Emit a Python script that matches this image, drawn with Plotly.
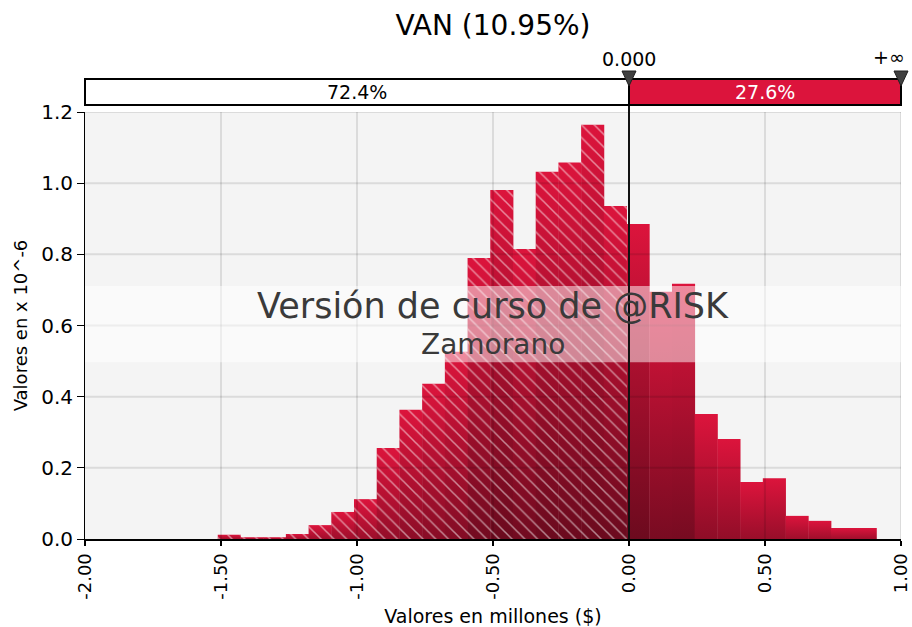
import plotly.graph_objects as go

# histogram of VAN, values in millions, densities x 10^-6
bin_start = -1.512
bin_width = 0.0835
densities = [0.012, 0.005, 0.005, 0.014, 0.039, 0.076, 0.112, 0.256, 0.363, 0.436,
             0.526, 0.790, 0.981, 0.815, 1.032, 1.058, 1.164, 0.936,
             0.885, 0.695, 0.717, 0.351, 0.281, 0.160, 0.171, 0.065, 0.051, 0.031, 0.031]

delimiter = 0.0
left_pct = "72.4%"
right_pct = "27.6%"
title = "VAN (10.95%)"

x_ticks = [-2.0, -1.5, -1.0, -0.5, 0.0, 0.5, 1.0]
y_ticks = [0.0, 0.2, 0.4, 0.6, 0.8, 1.0, 1.2]

XMIN, XMAX = -2.0, 1.0
YMIN, YMAX = 0.0, 1.2
CRIMSON = "#dc143c"
DARK = "#6b0a1e"
SEAM = 0.0015  # tiny overlap so neighbouring bars don't show antialias seams

edges = [bin_start + i * bin_width for i in range(len(densities) + 1)]
fig = go.Figure()

# gradient bars, one filled polygon per bin
for i, h in enumerate(densities):
    l, r = edges[i], edges[i + 1] + SEAM
    f = min(1.0, 0.5 + 0.55 * h)  # small bars get a lighter bottom
    start = -(1 - f) * h / f
    fig.add_trace(go.Scatter(
        x=[l, l, r, r, l], y=[0, h, h, 0, 0],
        mode="lines", line=dict(width=0), fill="toself",
        fillgradient=dict(type="vertical", start=start, stop=h,
                          colorscale=[[0, DARK], [1, CRIMSON]]),
        hoverinfo="skip", showlegend=False,
    ))

# white hatching on bins left of the delimiter
hx, hy = [], []
for i, h in enumerate(densities):
    if edges[i + 1] <= delimiter + 0.01:
        l, r = edges[i], edges[i + 1] + SEAM
        hx += [l, l, r, r, l, None]
        hy += [0, h, h, 0, 0, None]
fig.add_trace(go.Scatter(
    x=hx, y=hy, mode="lines", line=dict(width=0), fill="toself",
    fillcolor="rgba(0,0,0,0)",
    fillpattern=dict(shape="\\", fgcolor="white", fgopacity=0.5, size=9, solidity=0.17,
                     bgcolor="rgba(0,0,0,0)"),
    hoverinfo="skip", showlegend=False,
))

def fx(v):
    return (v - XMIN) / (XMAX - XMIN)

shapes = []
# grid drawn above the bars
for y in y_ticks[1:]:
    shapes.append(dict(type="line", xref="x", yref="y", x0=XMIN, x1=XMAX, y0=y, y1=y,
                       line=dict(color="rgba(0,0,0,0.1)", width=2), layer="above"))
for x in x_ticks[1:]:
    shapes.append(dict(type="line", xref="x", yref="y", x0=x, x1=x, y0=YMIN, y1=YMAX,
                       line=dict(color="rgba(0,0,0,0.1)", width=2), layer="above"))

# watermark band
shapes.append(dict(type="rect", xref="paper", yref="y", x0=0, x1=1, y0=0.497, y1=0.711,
                   fillcolor="rgba(255,255,255,0.5)", line=dict(width=0), layer="above"))

# delimiter line
shapes.append(dict(type="line", xref="x", yref="paper", x0=delimiter, x1=delimiter,
                   y0=0, y1=1 + 7 / 427, line=dict(color="#111111", width=2), layer="above"))

# top probability bar
shapes.append(dict(type="rect", xref="paper", yref="paper", ysizemode="pixel", yanchor=1,
                   x0=fx(XMIN), x1=fx(delimiter), y0=7, y1=33,
                   fillcolor="white", line=dict(color="black", width=2)))
shapes.append(dict(type="rect", xref="paper", yref="paper", ysizemode="pixel", yanchor=1,
                   x0=fx(delimiter), x1=fx(XMAX), y0=7, y1=33,
                   fillcolor=CRIMSON, line=dict(color="black", width=2)))
for v in [delimiter, XMAX]:
    shapes.append(dict(type="path", xref="paper", yref="paper",
                       xsizemode="pixel", ysizemode="pixel", xanchor=fx(v), yanchor=1,
                       path="M -7 41 L 7 41 L 0 26 Z",
                       fillcolor="#404040", line=dict(color="#202020", width=1)))

lab = dict(family="DejaVu Sans", size=19)
annotations = [
    dict(text=left_pct, xref="x", yref="paper", x=(XMIN + delimiter) / 2, y=1, yshift=20,
         yanchor="middle", showarrow=False, font=dict(lab, color="black")),
    dict(text=right_pct, xref="x", yref="paper", x=(delimiter + XMAX) / 2, y=1, yshift=20,
         yanchor="middle", showarrow=False, font=dict(lab, color="white")),
    dict(text="%.3f" % delimiter, xref="x", yref="paper", x=delimiter, y=1, yshift=53,
         yanchor="middle", showarrow=False, font=dict(lab, color="black")),
    dict(text="+∞", xref="x", yref="paper", x=XMAX, y=1, yshift=55, xanchor="right", xshift=6,
         yanchor="middle", showarrow=False, font=dict(lab, color="black")),
    dict(text="Versión de curso de @RISK", xref="paper", yref="y", x=0.5, y=0.656,
         showarrow=False, font=dict(size=35, color="#3a3a3a", family="DejaVu Sans")),
    dict(text="Zamorano", xref="paper", yref="y", x=0.5, y=0.546,
         showarrow=False, font=dict(size=28, color="#3a3a3a", family="DejaVu Sans")),
]

fig.update_layout(
    width=912, height=627,
    margin=dict(l=85, r=11, t=112, b=88),
    paper_bgcolor="white", plot_bgcolor="#f4f4f4",
    font=dict(family="DejaVu Sans", size=18, color="black"),
    title=dict(text=title, x=(85 + 816 / 2) / 912, xanchor="center", y=0.96, yanchor="middle",
               font=dict(size=28, color="black")),
    shapes=shapes, annotations=annotations,
    showlegend=False,
)
fig.update_xaxes(
    range=[XMIN, XMAX], tickvals=x_ticks, ticktext=["%.2f" % v for v in x_ticks],
    tickangle=-90, ticks="outside", ticklen=5, tickcolor="black", tickwidth=2,
    showline=True, linecolor="black", linewidth=2, showgrid=False, zeroline=False,
    automargin=False, tickfont=dict(size=18),
    title=dict(text="Valores en millones ($)", font=dict(size=19), standoff=13),
)
fig.update_yaxes(
    range=[YMIN, YMAX], tickvals=y_ticks, ticktext=["%.1f" % v for v in y_ticks],
    ticks="outside", ticklen=7, tickcolor="black", tickwidth=1,
    showline=True, linecolor="black", linewidth=1, showgrid=False, zeroline=False,
    automargin=False, tickfont=dict(size=20),
    title=dict(text="Valores en x 10^-6", font=dict(size=18), standoff=8),
)

fig.write_html("out.html", config={"displayModeBar": False},
               post_script="document.body.style.margin='0';")
